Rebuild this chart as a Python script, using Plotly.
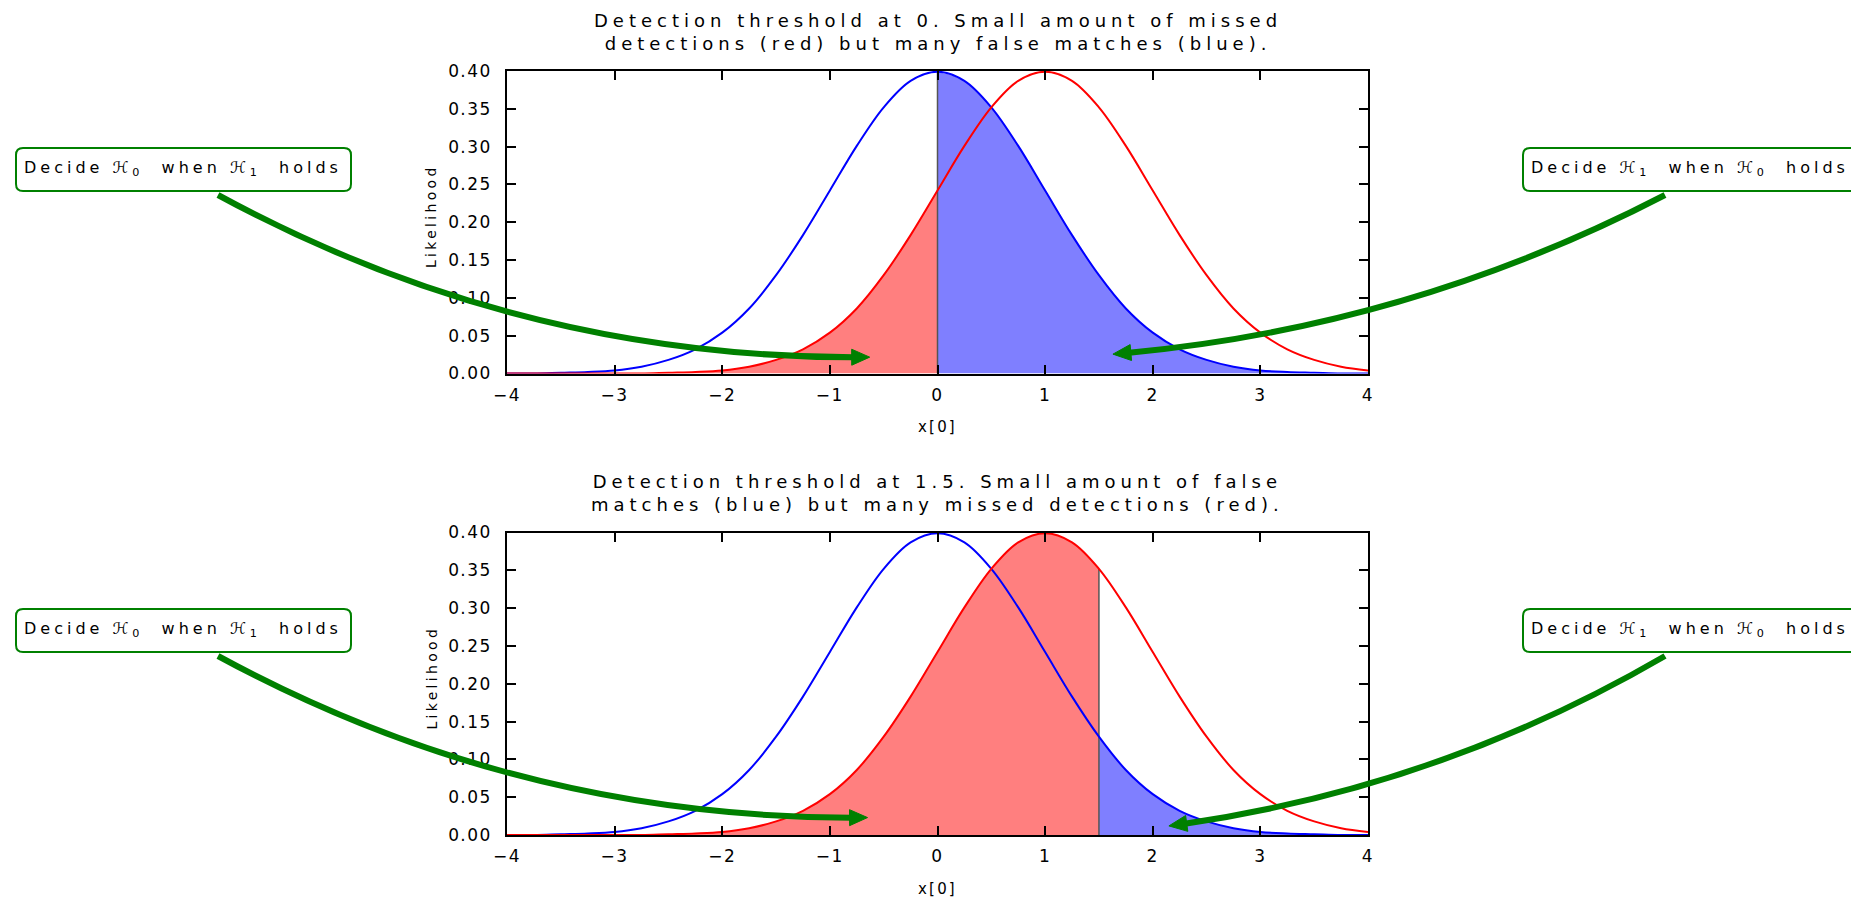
import math
import plotly.graph_objects as go
from plotly.subplots import make_subplots

# Sample grid and likelihood values of the two hypotheses
x_vals = [-4.0, -3.75, -3.5, -3.25, -3.0, -2.75, -2.5, -2.25, -2.0, -1.75, -1.5,
          -1.25, -1.0, -0.75, -0.5, -0.25, 0.0, 0.25, 0.5, 0.75, 1.0, 1.25, 1.5,
          1.75, 2.0, 2.25, 2.5, 2.75, 3.0, 3.25, 3.5, 3.75, 4.0]
h0_vals = [0.000, 0.000, 0.001, 0.002, 0.004, 0.009, 0.018, 0.032, 0.054, 0.086, 0.130,
           0.183, 0.242, 0.301, 0.352, 0.387, 0.399, 0.387, 0.352, 0.301, 0.242, 0.183, 0.130,
           0.086, 0.054, 0.032, 0.018, 0.009, 0.004, 0.002, 0.001, 0.000, 0.000]
h1_vals = [0.000, 0.000, 0.000, 0.000, 0.000, 0.000, 0.001, 0.002, 0.004, 0.009, 0.018,
           0.032, 0.054, 0.086, 0.130, 0.183, 0.242, 0.301, 0.352, 0.387, 0.399, 0.387, 0.352,
           0.301, 0.242, 0.183, 0.130, 0.086, 0.054, 0.032, 0.018, 0.009, 0.004]

thresholds = [0.0, 1.5]
title_lines = [
    ["Detection threshold at 0. Small amount of missed",
     "detections (red) but many false matches (blue)."],
    ["Detection threshold at 1.5. Small amount of false",
     "matches (blue) but many missed detections (red)."],
]
x_ticks = [-4, -3, -2, -1, 0, 1, 2, 3, 4]
x_tick_text = ["\u22124", "\u22123", "\u22122", "\u22121", "0", "1", "2", "3", "4"]
y_ticks = [0.00, 0.05, 0.10, 0.15, 0.20, 0.25, 0.30, 0.35, 0.40]
y_tick_text = ["0.00", "0.05", "0.10", "0.15", "0.20", "0.25", "0.30", "0.35", "0.40"]

# Arrow tips (data coordinates) for the two callouts in each panel
left_tips = [(-0.63, 0.021), (-0.65, 0.023)]
right_tips = [(1.63, 0.025), (2.15, 0.012)]
left_label = "Decide ℋ<sub>0</sub>  when ℋ<sub>1</sub>  holds"
right_label = "Decide ℋ<sub>1</sub>  when ℋ<sub>0</sub>  holds"

W, H = 1851, 899
PL, PR, PT, PB = 507, 1368, 71, 835          # plot area in pixels
panel_px = [(71, 373), (532, 835)]             # (top, bottom) of each panel
FONT = "DejaVu Sans"
GREEN = "#008000"


def spaced(text, px):
    return f'<span style="letter-spacing:{px}px">{text}</span>'


def to_paper(px, py):
    return (px - PL) / (PR - PL), (PB - py) / (PB - PT)


def data_to_px(panel, x, y):
    top, bot = panel_px[panel]
    return PL + (x + 4) / 8 * (PR - PL), bot - y / 0.4 * (bot - top)


fig = make_subplots(rows=2, cols=1, vertical_spacing=(532 - 373) / (PB - PT))

for i, thr in enumerate(thresholds):
    row = i + 1
    red_x = [x for x in x_vals if x <= thr]
    red_y = [y for x, y in zip(x_vals, h1_vals) if x <= thr]
    blue_x = [x for x in x_vals if x >= thr]
    blue_y = [y for x, y in zip(x_vals, h0_vals) if x >= thr]
    fig.add_trace(go.Scatter(x=red_x, y=red_y, mode="lines", fill="tozeroy",
                             line=dict(width=0, shape="spline"),
                             fillcolor="rgba(255,0,0,0.5)", hoverinfo="skip"), row=row, col=1)
    fig.add_trace(go.Scatter(x=blue_x, y=blue_y, mode="lines", fill="tozeroy",
                             line=dict(width=0, shape="spline"),
                             fillcolor="rgba(0,0,255,0.5)", hoverinfo="skip"), row=row, col=1)
    k = x_vals.index(thr)
    edge = max(h0_vals[k], h1_vals[k])
    fig.add_trace(go.Scatter(x=[thr, thr], y=[0, edge], mode="lines",
                             line=dict(color="#555555", width=1.5)), row=row, col=1)
    fig.add_trace(go.Scatter(x=x_vals, y=h0_vals, mode="lines",
                             line=dict(color="#0000ff", width=2, shape="spline")), row=row, col=1)
    fig.add_trace(go.Scatter(x=x_vals, y=h1_vals, mode="lines",
                             line=dict(color="#ff0000", width=2, shape="spline")), row=row, col=1)

axis_common = dict(showline=True, linewidth=2, linecolor="black", mirror="allticks",
                   ticks="inside", ticklen=9, tickwidth=2, tickcolor="black",
                   showgrid=False, zeroline=False, automargin=False,
                   tickfont=dict(family=FONT, size=17, color="black"))
for r in (1, 2):
    fig.update_xaxes(range=[-4, 4], tickvals=x_ticks,
                     ticktext=[spaced(t, 1.5) for t in x_tick_text],
                     ticklabelstandoff=5, **axis_common, row=r, col=1)
    fig.update_yaxes(range=[0, 0.4], tickvals=y_ticks,
                     ticktext=[spaced(t, 1.4) for t in y_tick_text],
                     ticklabelstandoff=10, **axis_common, row=r, col=1)

annotations = []
shapes = []

for i in range(2):
    top, bot = panel_px[i]
    # two-line panel title
    _, ty = to_paper(0, top - 15)
    title_text = "<br>".join(spaced(s, 5.0) for s in title_lines[i])
    annotations.append(dict(text=title_text, x=0.5, y=ty, xref="paper", yref="paper",
                            xanchor="center", yanchor="bottom", showarrow=False,
                            font=dict(family=FONT, size=18, color="black")))
    # axis titles
    _, ly = to_paper(0, (top + bot) / 2 - 6)
    lx, _ = to_paper(431, 0)
    annotations.append(dict(text=spaced("Likelihood", 3.3), x=lx, y=ly, xref="paper",
                            yref="paper", textangle=-90, showarrow=False,
                            xanchor="center", yanchor="middle",
                            font=dict(family=FONT, size=14, color="black")))
    _, xy = to_paper(0, bot + 54)
    annotations.append(dict(text=spaced("x[0]", 2.2), x=0.5, y=xy, xref="paper", yref="paper",
                            showarrow=False, xanchor="center", yanchor="middle",
                            font=dict(family=FONT, size=15, color="black")))

    # callout boxes
    dy = top - panel_px[0][0]
    for (bx0, bx1, label) in [(16, 351, left_label), (1523, 1858, right_label)]:
        by0, by1 = 148 + dy, 191 + dy
        r = 7
        p0x, p0y = to_paper(bx0, by0)
        p1x, p1y = to_paper(bx1, by1)
        rx = r / (PR - PL)
        ry = r / (PB - PT)
        path = (f"M {p0x + rx},{p0y} L {p1x - rx},{p0y} Q {p1x},{p0y} {p1x},{p0y - ry} "
                f"L {p1x},{p1y + ry} Q {p1x},{p1y} {p1x - rx},{p1y} "
                f"L {p0x + rx},{p1y} Q {p0x},{p1y} {p0x},{p1y + ry} "
                f"L {p0x},{p0y - ry} Q {p0x},{p0y} {p0x + rx},{p0y} Z")
        shapes.append(dict(type="path", path=path, xref="paper", yref="paper",
                           line=dict(color=GREEN, width=2), fillcolor="white", layer="above"))
        tx, tyy = to_paper(bx0 + 6, (by0 + by1) / 2 - 1)
        annotations.append(dict(text=spaced(label, 4.0), x=tx, y=tyy, xref="paper",
                                yref="paper", xanchor="left", yanchor="middle",
                                showarrow=False,
                                font=dict(family=FONT, size=16, color="black")))

    # curved arrows from the boxes to the tails
    for start_px, tip, rad in [((218, 195 + dy), left_tips[i], 0.13),
                               ((1665, 195 + dy), right_tips[i], -0.1)]:
        x0, y0 = start_px
        x2, y2 = data_to_px(i, *tip)
        # arc3-style control point (computed with y pointing up)
        dxu, dyu = x2 - x0, -(y2 - y0)
        mx, my = (x0 + x2) / 2, -(y0 + y2) / 2
        cx, cyu = mx + rad * dyu, my - rad * dxu
        cy = -cyu
        head_len, head_w = 18, 16

        def bez(t):
            return ((1 - t) ** 2 * x0 + 2 * t * (1 - t) * cx + t ** 2 * x2,
                    (1 - t) ** 2 * y0 + 2 * t * (1 - t) * cy + t ** 2 * y2)

        t_end = 1.0
        while t_end > 0.5:
            bx, by = bez(t_end)
            if math.hypot(x2 - bx, y2 - by) >= head_len - 2:
                break
            t_end -= 0.002
        ex, ey = bez(t_end)
        scx, scy = (1 - t_end) * x0 + t_end * cx, (1 - t_end) * y0 + t_end * cy
        a = to_paper(x0, y0)
        c = to_paper(scx, scy)
        e = to_paper(ex, ey)
        shapes.append(dict(type="path", path=f"M {a[0]},{a[1]} Q {c[0]},{c[1]} {e[0]},{e[1]}",
                           xref="paper", yref="paper", line=dict(color=GREEN, width=6),
                           layer="above"))
        dxh, dyh = x2 - ex, y2 - ey
        n = math.hypot(dxh, dyh)
        ux, uy = dxh / n, dyh / n
        bcx, bcy = x2 - ux * head_len, y2 - uy * head_len
        pxp, pyp = -uy, ux
        c1 = to_paper(bcx + pxp * head_w / 2, bcy + pyp * head_w / 2)
        c2 = to_paper(bcx - pxp * head_w / 2, bcy - pyp * head_w / 2)
        tp = to_paper(x2, y2)
        shapes.append(dict(type="path",
                           path=f"M {tp[0]},{tp[1]} L {c1[0]},{c1[1]} L {c2[0]},{c2[1]} Z",
                           xref="paper", yref="paper", line=dict(color=GREEN, width=1),
                           fillcolor=GREEN, layer="above"))

fig.update_layout(width=W, height=H, autosize=False, showlegend=False,
                  margin=dict(l=PL, r=W - PR, t=PT, b=H - PB, pad=0),
                  plot_bgcolor="white", paper_bgcolor="white",
                  annotations=annotations, shapes=shapes)

fig.write_html("out.html")
